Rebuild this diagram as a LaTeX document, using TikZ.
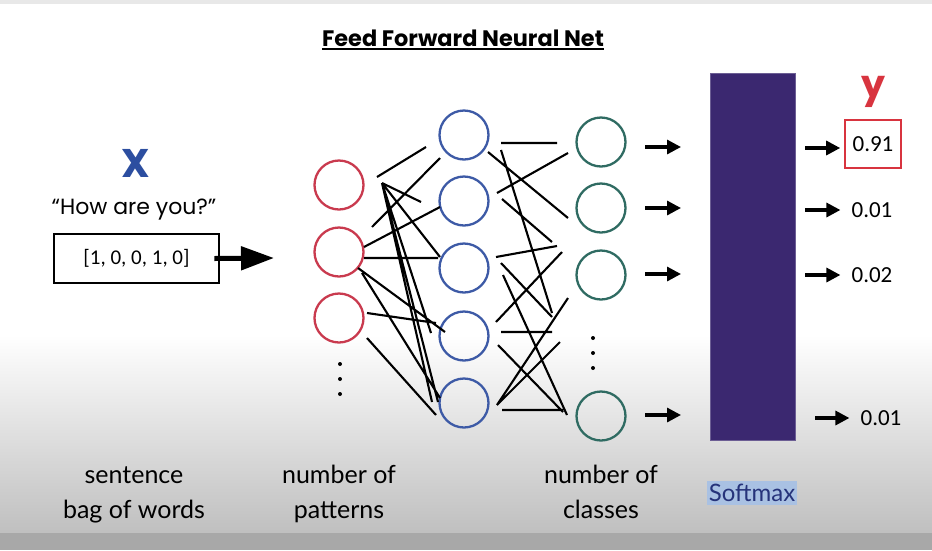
\documentclass[tikz,border=0pt]{standalone}
\usepackage{fontspec}
\setmainfont{Lato}
\newfontfamily\popfont{Poppins}
\newfontfamily\calfont{Carlito}
\usetikzlibrary{arrows.meta,positioning}

\definecolor{inred}{HTML}{C93A4E}
\definecolor{hidblue}{HTML}{3D5AA6}
\definecolor{outgreen}{HTML}{2F6B62}
\definecolor{smpurple}{HTML}{3B2870}
\definecolor{xblue}{HTML}{2C4EA0}
\definecolor{yred}{HTML}{D8343F}
\definecolor{hlblue}{HTML}{A9C1E3}
\definecolor{hltext}{HTML}{26337A}

\begin{document}
\begin{tikzpicture}[x=1pt,y=-1pt,
  neuron/.style={circle,draw,line width=2.3pt,minimum size=49pt,inner sep=0pt},
  inp/.style={neuron,draw=inred},
  hid/.style={neuron,draw=hidblue},
  outp/.style={neuron,draw=outgreen},
  wire/.style={line width=2.1pt},
  smallarrow/.style={line width=3.2pt,-{Triangle[length=14pt,width=14pt]}},
  prob/.style={font=\calfont\fontsize{23}{26}\selectfont,inner sep=0pt},
  caption/.style={font=\fontsize{25}{35}\selectfont,align=center,inner sep=0pt}]
  \useasboundingbox (0,0) rectangle (932,550);
  % backdrop
  \fill[black!9] (0,0) rectangle (932,4);
  \fill[white] (0,4) rectangle (932,335);
  \shade[top color=white,bottom color=black!25] (0,335) rectangle (932,533);
  \fill[black!34] (0,533) rectangle (932,550);

  \node[font=\popfont\bfseries\fontsize{22.4}{26}\selectfont,inner sep=0pt] (title) at (463,38) {Feed Forward Neural Net};
  \draw[line width=1.8pt] ([yshift=-3pt]title.base west) -- ([yshift=-3pt]title.base east);

  % input side
  \node[font=\popfont\bfseries\fontsize{40}{44}\selectfont,text=xblue,inner sep=0pt] (x) at (136,163) {X};
  \node[font=\popfont\fontsize{22}{25}\selectfont,inner sep=0pt] (sent) at (134,210) {“How are you?”};
  \node[draw,line width=2.8pt,minimum width=165pt,minimum height=49pt,inner sep=0pt,
        font=\calfont\fontsize{21}{24}\selectfont] (bow) at (136.5,258.5) {[1, 0, 0, 1, 0]};
  \coordinate (inarr) at (274,258);
  \draw[line width=5pt,-{Triangle[length=33pt,width=23pt]}] ([xshift=-6pt]bow.east) -- (inarr);

  % layers
  \node[inp] (r1) at (339,185) {};
  \node[inp] (r2) at (339,252) {};
  \node[inp] (r3) at (339,318) {};
  \node[hid] (b1) at (464,135) {};
  \node[hid] (b2) at (464,201) {};
  \node[hid] (b3) at (464,268) {};
  \node[hid] (b4) at (464,336) {};
  \node[hid] (b5) at (464,403) {};
  \node[outp] (g1) at (601,142) {};
  \node[outp] (g2) at (601,208) {};
  \node[outp] (g3) at (601,275) {};
  \node[outp] (g4) at (601,416) {};
  \fill (340,364) circle (2) (340,379) circle (2) (340,394) circle (2);
  \fill (593,338) circle (2) (593,353) circle (2) (593,368) circle (2);

  % loose wiring, first gap
  \draw[wire] (377,177) -- (426,147) (372,227) -- (440,158)
    (382,183) -- (421,202) (382,183) -- (440,257) (382,183) -- (431,333)
    (382,183) -- (432,402) (382,183) -- (438,402)
    (364,247) -- (440,207) (364,258) -- (438,258)
    (358,268) -- (445,332) (362,273) -- (440,398)
    (367,313) -- (436,323) (367,338) -- (436,415);
  % second gap
  \draw[wire] (501,143) -- (557,143) (488,152) -- (568,218) (497,193) -- (568,153)
    (501,150) -- (552,313) (502,199) -- (552,242) (496,257) -- (557,246)
    (501,263) -- (552,317) (503,275) -- (567,415) (496,322) -- (562,252)
    (501,332) -- (552,332) (498,345) -- (563,412) (497,405) -- (568,298)
    (497,405) -- (560,342) (502,410) -- (563,410);

  \coordinate (o1) at (645,147); \coordinate (o2) at (645,208);
  \coordinate (o3) at (645,274); \coordinate (o4) at (645,415);
  \draw[smallarrow] (o1) -- ++(36,0);
  \draw[smallarrow] (o2) -- ++(36,0);
  \draw[smallarrow] (o3) -- ++(36,0);
  \draw[smallarrow] (o4) -- ++(36,0);

  % softmax column
  \node[fill=smpurple,draw=smpurple!75!white,line width=0.8pt,minimum width=85pt,
        minimum height=367pt,inner sep=0pt] (sm) at (752.5,256.5) {};

  \node[font=\popfont\bfseries\fontsize{38}{40}\selectfont,text=yred,inner sep=0pt] (y) at (873,92) {y};
  \node[prob,draw=yred,line width=1.6pt,minimum width=56pt,minimum height=48pt] (p1) at (873,144) {0.91};
  \node[prob] (p2) at (872,210) {0.01};
  \node[prob] (p3) at (872,275) {0.02};
  \node[prob] (p4) at (881,418) {0.01};
  \coordinate (s1) at (805,148); \coordinate (s2) at (805,210);
  \coordinate (s3) at (805,275); \coordinate (s4) at (815,418);
  \draw[smallarrow] (s1) -- ([xshift=-4pt]p1.west |- s1);
  \draw[smallarrow] (s2) -- ([xshift=-11pt]p2.west |- s2);
  \draw[smallarrow] (s3) -- ([xshift=-11pt]p3.west |- s3);
  \draw[smallarrow] (s4) -- ([xshift=-11pt]p4.west |- s4);

  % captions
  \node[caption] (c1) at (134,494) {\strut sentence\\\strut bag of words};
  \node[caption] (c2) at (339,494) {\strut number of\\\strut patterns};
  \node[caption] (c3) at (601,494) {\strut number of\\\strut classes};
  \node[fill=hlblue,text=hltext,inner xsep=1.5pt,inner ysep=3pt,
        font=\fontsize{24}{27}\selectfont] (c4) at (752,493) {Softmax};
\end{tikzpicture}
\end{document}
